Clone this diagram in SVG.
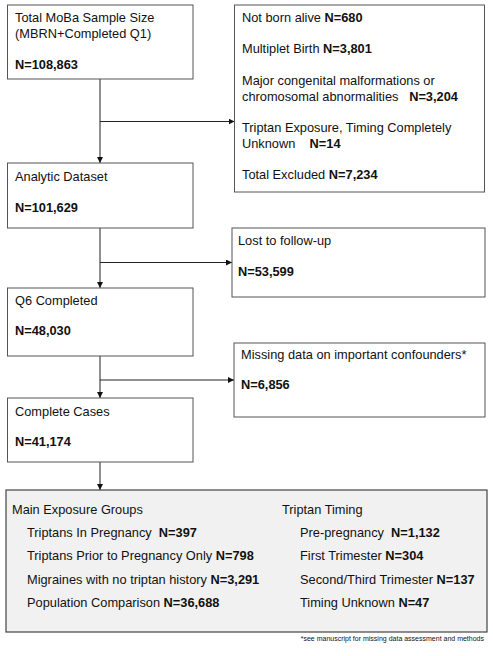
<svg xmlns="http://www.w3.org/2000/svg" width="493" height="656" viewBox="0 0 493 656">
<style>
text{font-family:"Liberation Sans",Arial,sans-serif;font-size:12.8px;fill:#111}
.b{font-weight:bold}
.box{fill:#fff;stroke:#555;stroke-width:1}
.gbox{fill:#f1f1f1;stroke:#444;stroke-width:1.2}
.ln{fill:none;stroke:#222;stroke-width:1}
.fn{font-size:7px}
</style>
<defs>
<marker id="ah" viewBox="0 0 8 8" refX="8" refY="4" markerWidth="6" markerHeight="6" orient="auto" markerUnits="userSpaceOnUse">
<path d="M0,0 L8,4 L0,8 Z" fill="#111"/>
</marker>
</defs>
<rect width="493" height="656" fill="#fff"/>
<g id="connectors">
<line class="ln" x1="100" y1="79" x2="100" y2="163" marker-end="url(#ah)"/>
<line class="ln" x1="100" y1="121.5" x2="234.5" y2="121.5" marker-end="url(#ah)"/>
<line class="ln" x1="100" y1="228" x2="100" y2="288" marker-end="url(#ah)"/>
<line class="ln" x1="100" y1="262.5" x2="232" y2="262.5" marker-end="url(#ah)"/>
<line class="ln" x1="100" y1="356" x2="100" y2="398" marker-end="url(#ah)"/>
<line class="ln" x1="100" y1="380" x2="234" y2="380" marker-end="url(#ah)"/>
<line class="ln" x1="100" y1="462" x2="100" y2="490" marker-end="url(#ah)"/>
</g>
<g id="total">
<rect class="box" x="7.5" y="5" width="185.5" height="74"/>
<text x="15" y="22">Total MoBa Sample Size</text>
<text x="15" y="38">(MBRN+Completed Q1)</text>
<text x="15" y="69" class="b">N=108,863</text>
</g>
<g id="excluded">
<rect class="box" x="234.5" y="5" width="250" height="187"/>
<text x="242" y="22">Not born alive <tspan class="b">N=680</tspan></text>
<text x="242" y="53">Multiplet Birth <tspan class="b">N=3,801</tspan></text>
<text x="242" y="85">Major congenital malformations or</text>
<text x="242" y="101" xml:space="preserve">chromosomal abnormalities   <tspan class="b">N=3,204</tspan></text>
<text x="242" y="132">Triptan Exposure, Timing Completely</text>
<text x="242" y="148" xml:space="preserve">Unknown    <tspan class="b">N=14</tspan></text>
<text x="242" y="179">Total Excluded <tspan class="b">N=7,234</tspan></text>
</g>
<g id="analytic">
<rect class="box" x="7.5" y="163" width="185.5" height="65"/>
<text x="15" y="181">Analytic Dataset</text>
<text x="15" y="212" class="b">N=101,629</text>
</g>
<g id="lost">
<rect class="box" x="232" y="228" width="253" height="69"/>
<text x="238" y="245">Lost to follow-up</text>
<text x="238" y="276" class="b">N=53,599</text>
</g>
<g id="q6">
<rect class="box" x="7.5" y="288" width="185.5" height="68"/>
<text x="15" y="305">Q6 Completed</text>
<text x="15" y="335" class="b">N=48,030</text>
</g>
<g id="missing">
<rect class="box" x="234" y="343" width="251" height="74"/>
<text x="241" y="359">Missing data on important confounders*</text>
<text x="241" y="389" class="b">N=6,856</text>
</g>
<g id="complete">
<rect class="box" x="7.5" y="398" width="185.5" height="64"/>
<text x="15" y="416">Complete Cases</text>
<text x="15" y="446" class="b">N=41,174</text>
</g>
<g id="groups">
<rect class="gbox" x="6" y="490" width="481" height="142"/>
<text x="12" y="514">Main Exposure Groups</text>
<text x="27" y="537" xml:space="preserve">Triptans In Pregnancy  <tspan class="b">N=397</tspan></text>
<text x="27" y="560">Triptans Prior to Pregnancy Only <tspan class="b">N=798</tspan></text>
<text x="27" y="584">Migraines with no triptan history <tspan class="b">N=3,291</tspan></text>
<text x="27" y="607">Population Comparison <tspan class="b">N=36,688</tspan></text>
<text x="282" y="514">Triptan Timing</text>
<text x="300" y="537" xml:space="preserve">Pre-pregnancy  <tspan class="b">N=1,132</tspan></text>
<text x="300" y="560">First Trimester <tspan class="b">N=304</tspan></text>
<text x="300" y="584">Second/Third Trimester <tspan class="b">N=137</tspan></text>
<text x="300" y="607">Timing Unknown <tspan class="b">N=47</tspan></text>
</g>
<text class="fn" x="484" y="641" text-anchor="end">*see manuscript for missing data assessment and methods</text>
</svg>
